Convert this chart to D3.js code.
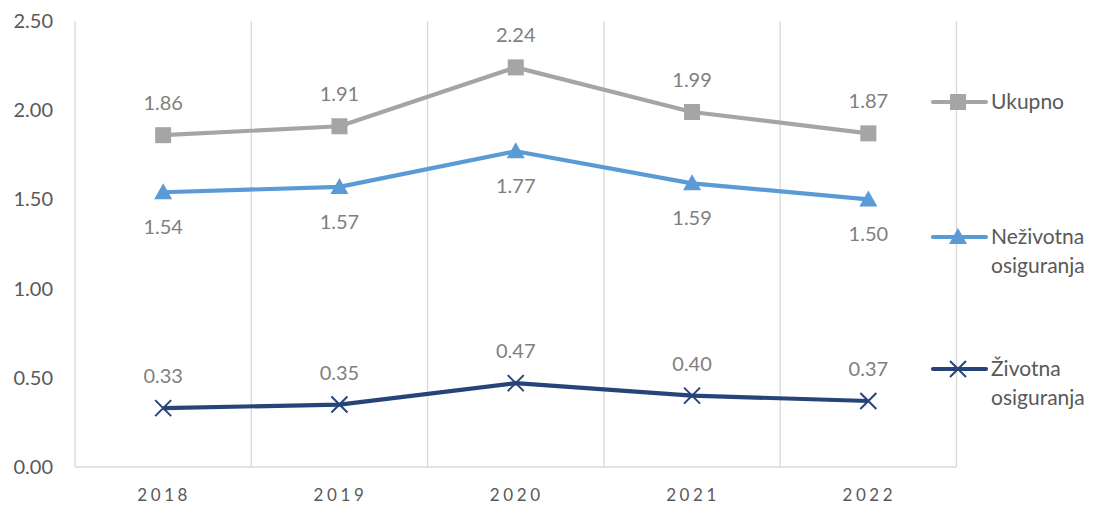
<!DOCTYPE html>
<html>
<head>
<meta charset="utf-8">
<script src="https://cdn.jsdelivr.net/npm/d3@7"></script>
<style>
  body { margin: 0; background: #fff; }
  svg { font-family: Lato, "Open Sans", sans-serif; }
</style>
</head>
<body>
<svg id="chart" width="1096" height="507"></svg>
<script>
// Data
var years = ["2018", "2019", "2020", "2021", "2022"];
var ukupno = [1.86, 1.91, 2.24, 1.99, 1.87];
var nezivotna = [1.54, 1.57, 1.77, 1.59, 1.50];
var zivotna = [0.33, 0.35, 0.47, 0.40, 0.37];
var yTicks = [0, 0.5, 1.0, 1.5, 2.0, 2.5];

var series = [
  { name: ["Ukupno"], values: ukupno, colour: "#A5A5A5", marker: "square", labelPos: "above", legendY: 102 },
  { name: ["Neživotna", "osiguranja"], values: nezivotna, colour: "#5B9BD5", marker: "triangle", labelPos: "below", legendY: 237 },
  { name: ["Životna", "osiguranja"], values: zivotna, colour: "#264478", marker: "cross", labelPos: "above", legendY: 369 }
];

var plotLeft = 75, plotRight = 956.5, plotTop = 21, plotBottom = 467;

var x = d3.scaleBand().domain(years).range([plotLeft, plotRight]);
var y = d3.scaleLinear().domain([0, 2.5]).range([plotBottom, plotTop]);

var svg = d3.select("#chart");

// Vertical gridlines at category boundaries
var bounds = years.map(function (d) { return x(d); }).concat([plotRight]);
svg.selectAll(".grid")
  .data(bounds)
  .enter().append("line")
  .attr("x1", function (d) { return d; })
  .attr("x2", function (d) { return d; })
  .attr("y1", plotTop)
  .attr("y2", plotBottom)
  .attr("stroke", "#d9d9d9")
  .attr("stroke-width", 1.3);

// Bottom axis line
svg.append("line")
  .attr("x1", plotLeft).attr("x2", plotRight)
  .attr("y1", plotBottom).attr("y2", plotBottom)
  .attr("stroke", "#d9d9d9")
  .attr("stroke-width", 1.5);

// Y tick labels
svg.selectAll(".ytick")
  .data(yTicks)
  .enter().append("text")
  .attr("x", 53)
  .attr("y", function (d) { return y(d); })
  .attr("dy", "0.35em")
  .attr("text-anchor", "end")
  .attr("fill", "#595959")
  .style("font-size", "20px")
  .text(function (d) { return d.toFixed(2); });

// X tick labels
svg.selectAll(".xtick")
  .data(years)
  .enter().append("text")
  .attr("x", function (d) { return x(d) + x.bandwidth() / 2 + 1; })
  .attr("y", 501)
  .attr("text-anchor", "middle")
  .attr("fill", "#595959")
  .style("font-size", "17px")
  .style("letter-spacing", "3.6px")
  .text(function (d) { return d; });

var line = d3.line()
  .x(function (d, i) { return x(years[i]) + x.bandwidth() / 2; })
  .y(function (d) { return y(d); });

function drawMarker(g, type, colour, cx, cy) {
  if (type === "square") {
    g.append("rect")
      .attr("x", cx - 8).attr("y", cy - 8)
      .attr("width", 16).attr("height", 16)
      .attr("fill", colour);
  } else if (type === "triangle") {
    g.append("path")
      .attr("d", "M" + cx + "," + (cy - 9) + "L" + (cx + 9) + "," + (cy + 7) + "L" + (cx - 9) + "," + (cy + 7) + "Z")
      .attr("fill", colour);
  } else {
    g.append("path")
      .attr("d", "M" + (cx - 8) + "," + (cy - 8) + "L" + (cx + 8) + "," + (cy + 8) +
                 "M" + (cx + 8) + "," + (cy - 8) + "L" + (cx - 8) + "," + (cy + 8))
      .attr("stroke", colour)
      .attr("stroke-width", 2)
      .attr("fill", "none");
  }
}

series.forEach(function (s) {
  var g = svg.append("g");

  g.append("path")
    .datum(s.values)
    .attr("d", line)
    .attr("fill", "none")
    .attr("stroke", s.colour)
    .attr("stroke-width", 4.2)
    .attr("stroke-linejoin", "round");

  s.values.forEach(function (v, i) {
    var cx = x(years[i]) + x.bandwidth() / 2, cy = y(v);
    drawMarker(g, s.marker, s.colour, cx, cy);

    g.append("text")
      .attr("x", cx)
      .attr("y", s.labelPos === "above" ? cy - 32 : cy + 35)
      .attr("dy", "0.35em")
      .attr("text-anchor", "middle")
      .attr("fill", "#7f7f7f")
      .style("font-size", "20px")
      .text(v.toFixed(2));
  });

  // Legend
  var ly = s.legendY;
  g.append("line")
    .attr("x1", 933).attr("x2", 986)
    .attr("y1", ly).attr("y2", ly)
    .attr("stroke", s.colour)
    .attr("stroke-width", 4.2)
    .attr("stroke-linecap", "round");
  drawMarker(g, s.marker, s.colour, 958, ly);

  var t = g.append("text")
    .attr("x", 991)
    .attr("y", ly)
    .attr("fill", "#595959")
    .style("font-size", "21px");
  s.name.forEach(function (n, k) {
    t.append("tspan")
      .attr("x", 991)
      .attr("dy", k === 0 ? "0.35em" : "1.38em")
      .text(n);
  });
});
</script>
</body>
</html>
